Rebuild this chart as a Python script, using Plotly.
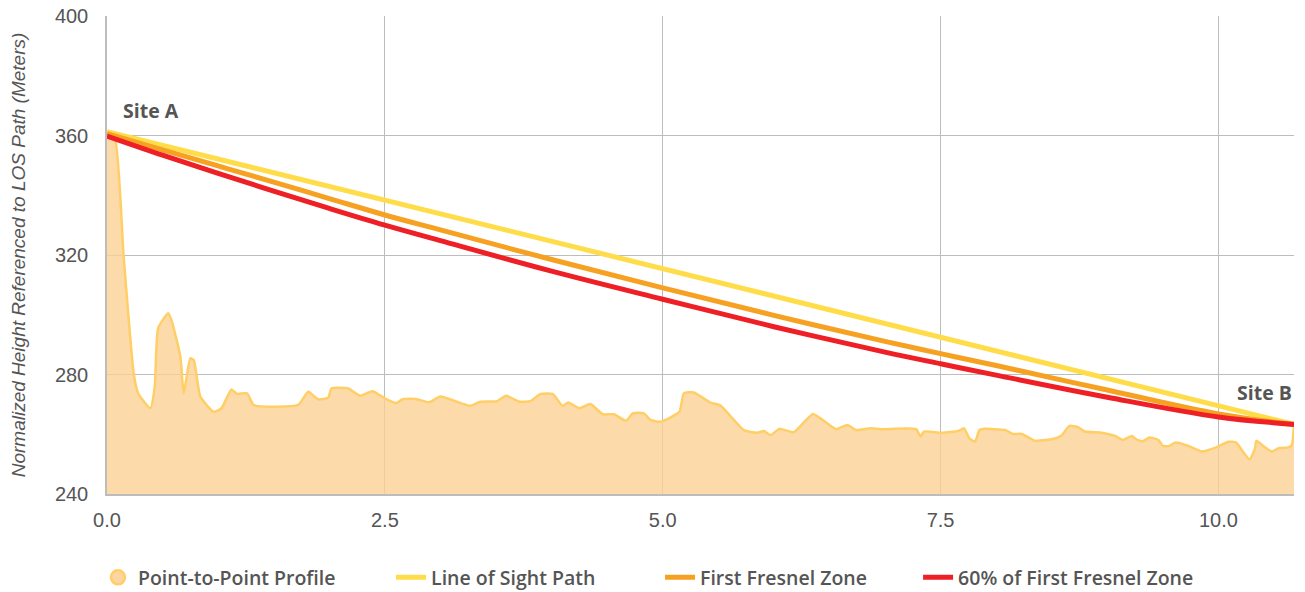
import plotly.graph_objects as go

# ---- data ----
prof_x = [0, 0.07, 0.15, 0.24, 0.28, 0.39, 0.43, 0.46, 0.55, 0.58,
          0.66, 0.69, 0.75, 0.78, 0.84, 0.96, 1.03, 1.12, 1.17, 1.26,
          1.32, 1.72, 1.81, 1.90, 1.99, 2.02, 2.17, 2.28, 2.39, 2.50,
          2.60, 2.66, 2.78, 2.90, 3.00, 3.27, 3.36, 3.51, 3.59, 3.71,
          3.81, 3.90, 4.01, 4.10, 4.15, 4.25, 4.35, 4.46, 4.56, 4.67,
          4.73, 4.83, 4.89, 4.98, 5.15, 5.19, 5.28, 5.43, 5.52, 5.73,
          5.85, 5.91, 5.97, 6.05, 6.18, 6.35, 6.42, 6.56, 6.66, 6.74, 6.87,
          6.96, 7.28, 7.32, 7.35, 7.51, 7.66, 7.71, 7.76, 7.81, 7.85,
          7.90, 8.08, 8.15, 8.23, 8.35, 8.53, 8.59, 8.66, 8.74, 8.80,
          8.95, 9.07, 9.14, 9.22, 9.26, 9.32, 9.38, 9.46, 9.50, 9.56,
          9.61, 9.73, 9.85, 9.98, 10.09, 10.16, 10.22, 10.28, 10.33, 10.34,
          10.42, 10.48, 10.54, 10.63, 10.66, 10.68]
prof_y = [360.7, 359.0, 319.4, 280.4, 273.7, 268.7, 276.0, 295.5, 300.5, 298.2,
          286.0, 273.7, 285.4, 284.9, 272.6, 267.5, 268.7, 275.0, 273.5, 273.7,
          269.8, 269.8, 274.2, 271.7, 272.2, 275.3, 275.3, 272.9, 274.4, 272.0,
          270.4, 271.7, 271.8, 270.7, 272.6, 269.5, 270.9, 271.1, 272.9, 270.9,
          271.1, 273.5, 273.5, 269.5, 270.6, 268.7, 270.1, 266.7, 266.7, 264.5,
          267.0, 267.0, 264.8, 264.2, 267.5, 273.7, 274.0, 270.6, 269.6, 261.4,
          260.5, 261.1, 259.7, 261.8, 260.7, 266.8, 265.3, 261.7, 263.1, 261.4, 262.0,
          261.7, 261.7, 259.2, 260.9, 260.5, 261.1, 262.0, 258.6, 257.5, 261.4,
          261.8, 261.4, 260.1, 260.1, 257.8, 258.6, 259.7, 262.8, 262.3, 260.9,
          260.5, 259.4, 258.1, 259.4, 258.3, 257.7, 258.9, 258.1, 256.1, 256.1,
          257.2, 256.1, 254.2, 255.6, 257.5, 257.2, 254.2, 251.6, 255.3, 257.8,
          255.6, 254.2, 255.3, 255.6, 256.4, 263.1]

los_x = [0, 10.68]
los_y = [361.3, 263.3]

zone_x = [0, 0.5, 1, 1.5, 2, 2.5, 3, 4, 5, 6, 7, 7.5, 8, 9, 10, 10.68]
fresnel_y = [360.6, 355.2, 349.8, 344.4, 338.9, 333.4, 328.4, 318.5, 309.0,
             299.8, 291.1, 287.0, 283.0, 274.8, 266.8, 263.3]
fresnel60_y = [359.8, 353.4, 347.3, 341.4, 335.6, 330.0, 324.8, 314.6, 305.2,
               296.0, 287.5, 283.6, 279.8, 272.4, 265.8, 263.3]

x_ticks = [0, 2.5, 5.0, 7.5, 10.0]
y_ticks = [240, 280, 320, 360, 400]

names = ["Point-to-Point Profile", "Line of Sight Path",
         "First Fresnel Zone", "60% of First Fresnel Zone"]

# ---- styles ----
C_FILL = "rgba(251,207,146,0.78)"
C_PROF = "#FFCF66"
C_LOS = "#FFDD4A"
C_FZ = "#F6A121"
C_FZ60 = "#EE1F25"
GRID = "#BDBDBD"
TXT = "#555555"
FONT = "Open Sans"
TICKFONT = "Liberation Sans"

fig = go.Figure()

fig.add_trace(go.Scatter(
    x=prof_x, y=prof_y, mode="lines", fill="tozeroy",
    fillcolor=C_FILL, line=dict(color=C_PROF, width=2.5, shape="spline", smoothing=0.5),
    showlegend=False, hoverinfo="skip"))

fig.add_trace(go.Scatter(
    x=[None], y=[None], mode="markers", name=names[0], legend="legend",
    marker=dict(symbol="circle", size=14, color="#FCD5A0",
                line=dict(color=C_PROF, width=2.5))))

fig.add_trace(go.Scatter(
    x=los_x, y=los_y, mode="lines", name=names[1], legend="legend2",
    line=dict(color=C_LOS, width=5)))

fig.add_trace(go.Scatter(
    x=zone_x, y=fresnel_y, mode="lines", name=names[2], legend="legend3",
    line=dict(color=C_FZ, width=5, shape="spline")))

fig.add_trace(go.Scatter(
    x=zone_x, y=fresnel60_y, mode="lines", name=names[3], legend="legend4",
    line=dict(color=C_FZ60, width=5, shape="spline")))

fig.add_annotation(x=0.126, y=368.5, text="<b>Site A</b>", showarrow=False,
                   xanchor="left", yanchor="middle",
                   font=dict(family=FONT, size=19.5, color=TXT))
fig.add_annotation(x=10.676, y=274.1, text="<b>Site B</b>", showarrow=False,
                   xanchor="right", yanchor="middle",
                   font=dict(family=FONT, size=19.5, color=TXT))

leg_font = dict(family=FONT, size=19.5, color=TXT, weight=600)


def leg(xpos):
    return dict(orientation="h", x=xpos, xanchor="left", y=-0.175, yanchor="middle",
                font=leg_font, bgcolor="rgba(0,0,0,0)")


fig.update_layout(
    width=1305, height=592,
    margin=dict(l=107, r=11, t=16, b=98, autoexpand=False),
    paper_bgcolor="white", plot_bgcolor="white",
    font=dict(family=FONT, size=17, color=TXT),
    xaxis=dict(range=[0, 10.68], tickvals=x_ticks, tickformat=".1f",
               showgrid=True, gridcolor=GRID, gridwidth=1,
               showline=True, linecolor=GRID, linewidth=1.5,
               zeroline=False, ticks="", ticklabelstandoff=7,
               ticklabeloverflow="allow",
               tickfont=dict(family=TICKFONT, size=20, color=TXT)),
    yaxis=dict(range=[240, 400], tickvals=y_ticks,
               showgrid=True, gridcolor=GRID, gridwidth=1,
               showline=True, linecolor=GRID, linewidth=1.5,
               zeroline=False, ticks="", ticklabelstandoff=13,
               ticklabeloverflow="allow",
               title=dict(text="<i>Normalized Height Referenced to LOS Path (Meters)</i>",
                          font=dict(family=TICKFONT, size=19, color=TXT), standoff=24),
               tickfont=dict(family=TICKFONT, size=20, color=TXT)),
    legend=leg(-0.0076),
    legend2=leg(0.2393),
    legend3=leg(0.4659),
    legend4=leg(0.6833),
)

# remove the browser's default 8px body margin so the 1305x592 figure fills the window
fig.write_html("out.html", config={"displayModeBar": False},
               post_script="document.body.style.margin='0';")
